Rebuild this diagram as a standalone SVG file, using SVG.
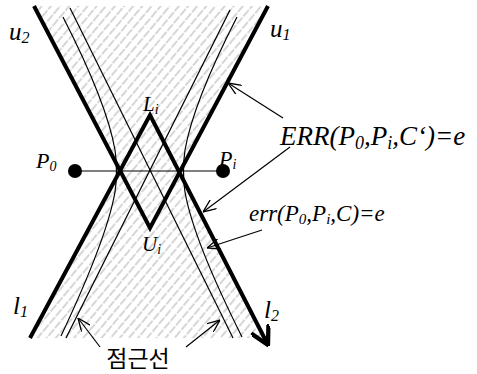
<svg xmlns="http://www.w3.org/2000/svg" width="477" height="374" viewBox="0 0 477 374">
<style>
.thick{fill:none;stroke:#000;stroke-width:4;stroke-linejoin:miter}
.thin{fill:none;stroke:#000;stroke-width:1.2}
.ptr{fill:none;stroke:#000;stroke-width:1.2}
.lbl{font-family:'Liberation Serif','DejaVu Serif','Times New Roman',serif;font-style:italic;fill:#000}
.kr{font-family:'Noto Sans CJK KR',sans-serif;fill:#000}
</style>
<defs>
<pattern id="hatch" width="7" height="10" patternUnits="userSpaceOnUse" patternTransform="rotate(40)">
<line x1="1" y1="0" x2="1" y2="10" stroke="#8a8a8a" stroke-width="0.7" stroke-dasharray="6 1.5"/>
</pattern>
<marker id="open" viewBox="0 0 12 10" refX="12" refY="5" markerWidth="13" markerHeight="11" markerUnits="userSpaceOnUse" orient="auto">
<path d="M0,0 L12,5 L0,10" fill="none" stroke="#000" stroke-width="1.2"/>
</marker>
<marker id="big" viewBox="0 0 14 14" refX="13" refY="7" markerWidth="20" markerHeight="20" markerUnits="userSpaceOnUse" orient="auto">
<path d="M0,0 L13,7 L0,14" fill="none" stroke="#000" stroke-width="3"/>
</marker>
</defs>
<rect width="477" height="374" fill="#fff"/>
<g id="region">
<polygon points="34,6 268,6 180,171 265,338 30,338 119,171" fill="url(#hatch)"/>
</g>
<g id="connectors">
<path id="asym1" class="thin" d="M70,8 L233,338"/>
<path id="asym2" class="thin" d="M230,10 L66,338"/>
<path id="branch-left" class="thin" d="M63,17 C85,60 108,110 115,150 Q118,171 115,192 C108,232 85,285 61,336"/>
<path id="branch-right" class="thin" d="M237,17 C215,60 192,110 185,150 Q182,171 185,192 C192,232 216,285 242,337"/>
<line id="p0-pi" class="thin" x1="75" y1="171" x2="223" y2="171"/>
<polyline id="upper-v" class="thick" points="34,6 150,228 268,6"/>
<polyline id="lower-v" class="thick" points="30,338 150,115 268,345" marker-end="url(#big)"/>
<line class="ptr" x1="283" y1="118" x2="228" y2="83" marker-end="url(#open)"/>
<line class="ptr" x1="290" y1="147" x2="203" y2="212" marker-end="url(#open)"/>
<line class="ptr" x1="262" y1="230" x2="207" y2="248" marker-end="url(#open)"/>
<line class="ptr" x1="100" y1="347" x2="78" y2="318" marker-end="url(#open)"/>
<line class="ptr" x1="186" y1="347" x2="220" y2="320" marker-end="url(#open)"/>
</g>
<g id="P0"><circle cx="75" cy="171" r="7" fill="#000"/><text class="lbl" x="36" y="168" font-size="22">P<tspan font-size="14" dy="3">0</tspan></text></g>
<g id="Pi"><circle cx="223" cy="171" r="7" fill="#000"/><text class="lbl" x="219" y="166" font-size="22">P<tspan font-size="14" dy="3">i</tspan></text></g>
<g id="Li"><text class="lbl" x="143" y="111" font-size="21">L<tspan font-size="14" dy="3">i</tspan></text></g>
<g id="Ui"><text class="lbl" x="142" y="251" font-size="21">U<tspan font-size="14" dy="3">i</tspan></text></g>
<g id="u2"><text class="lbl" x="9" y="40" font-size="25">u<tspan font-size="16" dy="3">2</tspan></text></g>
<g id="u1"><text class="lbl" x="270" y="37" font-size="25">u<tspan font-size="16" dy="3">1</tspan></text></g>
<g id="l1"><text class="lbl" x="13" y="314" font-size="25">l<tspan font-size="16" dy="3">1</tspan></text></g>
<g id="l2"><text class="lbl" x="264" y="318" font-size="25">l<tspan font-size="16" dy="3">2</tspan></text></g>
<g id="ERR"><text class="lbl" x="280" y="145" font-size="27">ERR(P<tspan font-size="18" dy="4">0</tspan><tspan dy="-4">,P</tspan><tspan font-size="18" dy="4">i</tspan><tspan dy="-4">,C‘)=e</tspan></text></g>
<g id="err"><text class="lbl" x="249" y="221" font-size="23">err(P<tspan font-size="15" dy="3">0</tspan><tspan dy="-3">,P</tspan><tspan font-size="15" dy="3">i</tspan><tspan dy="-3">,C)=e</tspan></text></g>
<g id="asymptote-label"><text class="kr" x="138" y="367" font-size="23" text-anchor="middle">점근선</text></g>
</svg>
